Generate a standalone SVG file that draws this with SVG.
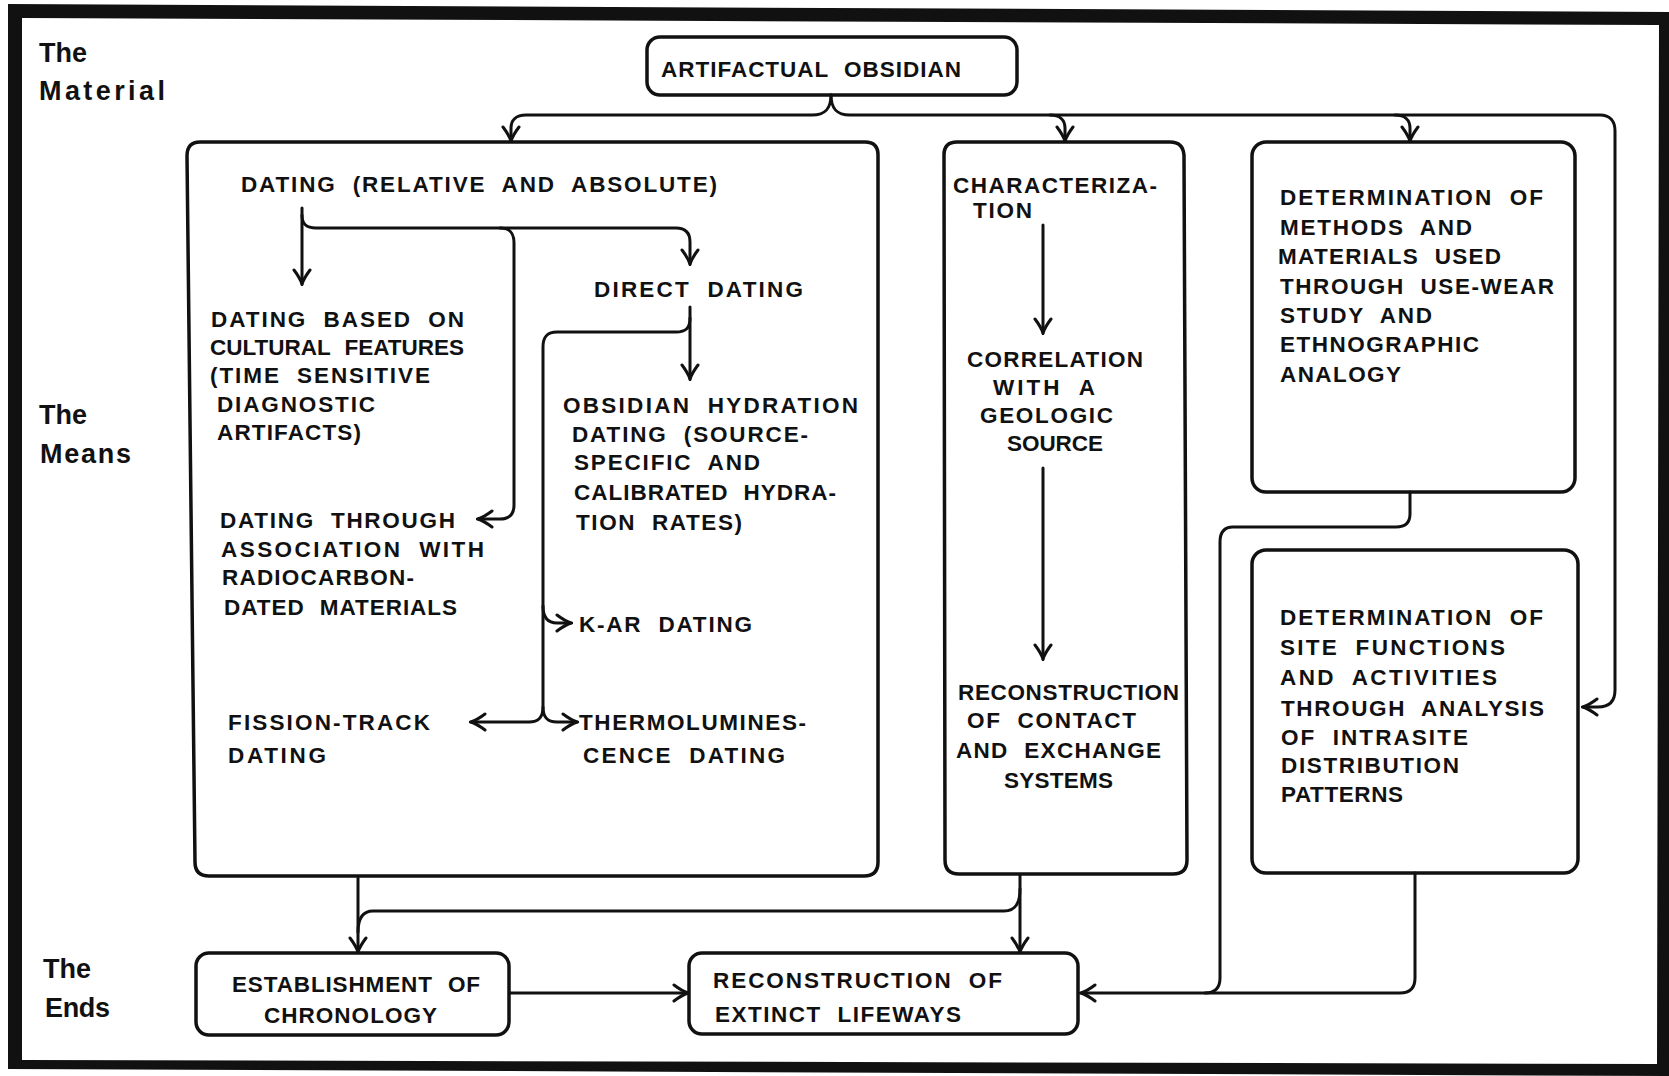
<svg xmlns="http://www.w3.org/2000/svg" width="1669" height="1076" viewBox="0 0 1669 1076">
<style>
.t{font-family:"Liberation Sans",Arial,sans-serif;font-weight:bold;font-size:22.5px;fill:#111;word-spacing:8px}
.s{font-family:"Liberation Sans",Arial,sans-serif;font-weight:bold;font-size:27px;fill:#111}
.box{fill:none;stroke:#111;stroke-width:3.5;stroke-linejoin:round}
.ln{fill:none;stroke:#111;stroke-width:3;stroke-linecap:round;stroke-linejoin:round}
.ar{marker-end:url(#ah)}
</style>
<defs>
<marker id="ah" viewBox="-16 -10 18 20" refX="0" refY="0" markerWidth="18" markerHeight="20" markerUnits="userSpaceOnUse" orient="auto">
<path d="M-14,-8 Q-6,-2 0,0 Q-6,2 -14,8" fill="none" stroke="#111" stroke-width="3" stroke-linecap="round"/>
</marker>
</defs>
<rect width="1669" height="1076" fill="#fff"/>
<path id="frame" fill="#111" fill-rule="evenodd" d="M8,4 L1669,12 L1669,1076 L8,1069 Z M22,18 L1659,25 L1657,1064 L22,1060 Z"/>

<g id="labels">
<text class="s" x="39" y="62" textLength="48" lengthAdjust="spacing">The</text>
<text class="s" x="39" y="100" textLength="126" lengthAdjust="spacing">Material</text>
<text class="s" x="39" y="424" textLength="48" lengthAdjust="spacing">The</text>
<text class="s" x="40" y="463" textLength="91" lengthAdjust="spacing">Means</text>
<text class="s" x="43" y="978" textLength="48" lengthAdjust="spacing">The</text>
<text class="s" x="45" y="1017" textLength="65" lengthAdjust="spacing">Ends</text>
</g>

<g id="obsidian">
<rect class="box" x="647" y="37" width="370" height="58" rx="13"/>
<text class="t" x="661" y="77" textLength="300" lengthAdjust="spacing">ARTIFACTUAL OBSIDIAN</text>
</g>

<g id="dating">
<path class="box" d="M200,142 H865 Q878,142 878,155 V862 Q878,876 864,876 H209 Q195,876 195,862 L187,156 Q187,142 200,142 Z"/>
<text class="t" x="241" y="192" textLength="476" lengthAdjust="spacing">DATING (RELATIVE AND ABSOLUTE)</text>
</g>
<g id="cultural">
<text class="t" x="211" y="327" textLength="253" lengthAdjust="spacing">DATING BASED ON</text>
<text class="t" x="210" y="355" textLength="254" lengthAdjust="spacing">CULTURAL FEATURES</text>
<text class="t" x="210" y="383" textLength="220" lengthAdjust="spacing">(TIME SENSITIVE</text>
<text class="t" x="217" y="412" textLength="158" lengthAdjust="spacing">DIAGNOSTIC</text>
<text class="t" x="217" y="440" textLength="144" lengthAdjust="spacing">ARTIFACTS)</text>
</g>
<g id="radiocarbon">
<text class="t" x="220" y="528" textLength="235" lengthAdjust="spacing">DATING THROUGH</text>
<text class="t" x="221" y="557" textLength="263" lengthAdjust="spacing">ASSOCIATION WITH</text>
<text class="t" x="222" y="585" textLength="192" lengthAdjust="spacing">RADIOCARBON-</text>
<text class="t" x="224" y="615" textLength="233" lengthAdjust="spacing">DATED MATERIALS</text>
</g>
<g id="direct">
<text class="t" x="594" y="297" textLength="209" lengthAdjust="spacing">DIRECT DATING</text>
</g>
<g id="hydration">
<text class="t" x="563" y="413" textLength="295" lengthAdjust="spacing">OBSIDIAN HYDRATION</text>
<text class="t" x="572" y="442" textLength="236" lengthAdjust="spacing">DATING (SOURCE-</text>
<text class="t" x="574" y="470" textLength="186" lengthAdjust="spacing">SPECIFIC AND</text>
<text class="t" x="574" y="500" textLength="262" lengthAdjust="spacing">CALIBRATED HYDRA-</text>
<text class="t" x="576" y="530" textLength="166" lengthAdjust="spacing">TION RATES)</text>
</g>
<g id="kar">
<text class="t" x="579" y="632" textLength="173" lengthAdjust="spacing">K-AR DATING</text>
</g>
<g id="fission">
<text class="t" x="228" y="730" textLength="202" lengthAdjust="spacing">FISSION-TRACK</text>
<text class="t" x="228" y="763" textLength="98" lengthAdjust="spacing">DATING</text>
</g>
<g id="thermo">
<text class="t" x="579" y="730" textLength="227" lengthAdjust="spacing">THERMOLUMINES-</text>
<text class="t" x="583" y="763" textLength="202" lengthAdjust="spacing">CENCE DATING</text>
</g>

<g id="characterization">
<path class="box" d="M957,142 H1170 Q1183,142 1184,155 L1187,860 Q1187,874 1173,874 H959 Q945,874 945,860 L944,155 Q944,142 957,142 Z"/>
<text class="t" x="953" y="193" textLength="204" lengthAdjust="spacing">CHARACTERIZA-</text>
<text class="t" x="973" y="218" textLength="59" lengthAdjust="spacing">TION</text>
</g>
<g id="correlation">
<text class="t" x="967" y="367" textLength="176" lengthAdjust="spacing">CORRELATION</text>
<text class="t" x="993" y="395" textLength="102" lengthAdjust="spacing">WITH A</text>
<text class="t" x="980" y="423" textLength="133" lengthAdjust="spacing">GEOLOGIC</text>
<text class="t" x="1007" y="451" textLength="96" lengthAdjust="spacing">SOURCE</text>
</g>
<g id="contact">
<text class="t" x="958" y="700" textLength="221" lengthAdjust="spacing">RECONSTRUCTION</text>
<text class="t" x="967" y="728" textLength="169" lengthAdjust="spacing">OF CONTACT</text>
<text class="t" x="956" y="758" textLength="205" lengthAdjust="spacing">AND EXCHANGE</text>
<text class="t" x="1004" y="788" textLength="109" lengthAdjust="spacing">SYSTEMS</text>
</g>

<g id="methods">
<rect class="box" x="1252" y="142" width="323" height="350" rx="14"/>
<text class="t" x="1280" y="205" textLength="263" lengthAdjust="spacing">DETERMINATION OF</text>
<text class="t" x="1280" y="235" textLength="192" lengthAdjust="spacing">METHODS AND</text>
<text class="t" x="1278" y="264" textLength="223" lengthAdjust="spacing">MATERIALS USED</text>
<text class="t" x="1280" y="294" textLength="274" lengthAdjust="spacing">THROUGH USE-WEAR</text>
<text class="t" x="1280" y="323" textLength="152" lengthAdjust="spacing">STUDY AND</text>
<text class="t" x="1280" y="352" textLength="199" lengthAdjust="spacing">ETHNOGRAPHIC</text>
<text class="t" x="1280" y="382" textLength="121" lengthAdjust="spacing">ANALOGY</text>
</g>

<g id="site">
<rect class="box" x="1252" y="550" width="326" height="323" rx="14"/>
<text class="t" x="1280" y="625" textLength="263" lengthAdjust="spacing">DETERMINATION OF</text>
<text class="t" x="1280" y="655" textLength="225" lengthAdjust="spacing">SITE FUNCTIONS</text>
<text class="t" x="1280" y="685" textLength="217" lengthAdjust="spacing">AND ACTIVITIES</text>
<text class="t" x="1281" y="716" textLength="263" lengthAdjust="spacing">THROUGH ANALYSIS</text>
<text class="t" x="1281" y="745" textLength="187" lengthAdjust="spacing">OF INTRASITE</text>
<text class="t" x="1281" y="773" textLength="178" lengthAdjust="spacing">DISTRIBUTION</text>
<text class="t" x="1281" y="802" textLength="122" lengthAdjust="spacing">PATTERNS</text>
</g>

<g id="chronology">
<rect class="box" x="196" y="953" width="313" height="82" rx="13"/>
<text class="t" x="232" y="992" textLength="248" lengthAdjust="spacing">ESTABLISHMENT OF</text>
<text class="t" x="264" y="1023" textLength="173" lengthAdjust="spacing">CHRONOLOGY</text>
</g>

<g id="lifeways">
<rect class="box" x="689" y="953" width="389" height="81" rx="13"/>
<text class="t" x="713" y="988" textLength="289" lengthAdjust="spacing">RECONSTRUCTION OF</text>
<text class="t" x="715" y="1022" textLength="246" lengthAdjust="spacing">EXTINCT LIFEWAYS</text>
</g>

<g id="connectors">
<path class="ln ar" d="M831,95 C831,108 826,115 812,115 H526 C516,115 511,120 511,128 V141"/>
<path class="ln ar" d="M831,95 C831,108 836,115 850,115 H1600 C1610,115 1615,121 1615,131 V690 C1615,701 1610,707 1598,707 H1583"/>
<path class="ln ar" d="M1050,115 C1060,115 1065,120 1065,128 V141"/>
<path class="ln ar" d="M1395,115 C1405,115 1410,120 1410,128 V141"/>

<path class="ln ar" d="M302,208 V284"/>
<path class="ln ar" d="M302,215 C302,224 306,228 316,228 H676 C686,228 690,233 690,242 V264"/>
<path class="ln ar" d="M500,228 C510,228 514,233 514,243 V505 C514,514 510,519 500,519 H478"/>

<path class="ln ar" d="M690,307 V379"/>
<path class="ln ar" d="M690,318 C690,328 686,332 676,332 H557 C547,332 543,337 543,347 V707 C543,717 539,722 529,722 H471"/>
<path class="ln ar" d="M543,606 C543,616 547,623 557,623 H571"/>
<path class="ln ar" d="M543,707 C543,717 547,722 557,722 H577"/>

<path class="ln ar" d="M1043,225 V333"/>
<path class="ln ar" d="M1043,468 V659"/>

<path class="ln ar" d="M358,878 V952"/>
<path class="ln ar" d="M1020,875 V952"/>
<path class="ln" d="M1020,889 C1020,904 1015,911 1004,911 H373 C363,911 358,918 358,932"/>

<path class="ln ar" d="M510,993 H688"/>

<path class="ln" d="M1410,492 V514 C1410,523 1405,527 1396,527 H1233 C1224,527 1220,532 1220,542 V978 C1220,988 1215,993 1205,993"/>
<path class="ln ar" d="M1415,873 V978 C1415,988 1410,993 1400,993 H1081"/>
</g>
</svg>
